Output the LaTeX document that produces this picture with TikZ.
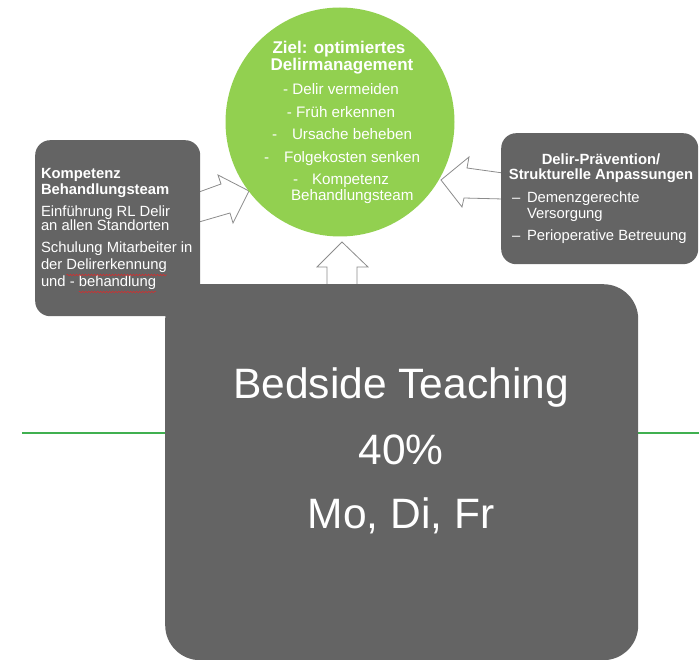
\documentclass[tikz,border=0pt]{standalone}
\usepackage{fontspec}
\setmainfont{Liberation Sans}
\usetikzlibrary{decorations.pathmorphing}

\definecolor{panelgray}{RGB}{100,100,100}
\definecolor{goalgreen}{RGB}{146,208,80}
\definecolor{linegreen}{RGB}{64,176,80}
\definecolor{arrowgray}{RGB}{140,140,140}
\definecolor{spellred}{RGB}{215,45,45}

\newcommand{\fsz}[1]{\fontsize{#1}{#1}\selectfont}

\begin{document}
\begin{tikzpicture}[x=1pt,y=-1pt,
  panel/.style={fill=panelgray, draw=none, inner sep=0pt, anchor=north west},
  lbl/.style={inner sep=0pt, outer sep=0pt, text=white, anchor=base west},
  clbl/.style={inner sep=0pt, outer sep=0pt, text=white, anchor=base},
  body/.style={font=\fsz{14.8}},
  head/.style={font=\fsz{14.8}\bfseries},
  goalbody/.style={font=\fsz{15.2}},
  goalhead/.style={font=\fsz{17}\bfseries},
  big/.style={font=\fsz{42.5}},
  blockarrow/.style={draw=arrowgray, fill=white, line width=0.8pt, line join=miter},
  spell/.style={draw=spellred, line width=0.5pt, decorate,
    decoration={snake, amplitude=0.8pt, segment length=3pt}}
]
\useasboundingbox (0,0) rectangle (699,660);

% horizontal green rule behind the teaching panel
\draw[linegreen, line width=2.6pt] (22,433) -- (699,433);

% block arrows pointing at the goal circle
\draw[blockarrow] (199,192) -- (221,184) -- (218,175) -- (249,191)
  -- (233,223) -- (230,213) -- (199,222) -- cycle;
\draw[blockarrow] (441,180) -- (469,157) -- (467,168) -- (503,173)
  -- (503,199) -- (464,198) -- (462,207) -- cycle;
\draw[blockarrow] (342,242) -- (368,267) -- (357,267) -- (357,287)
  -- (327,287) -- (327,267) -- (317,267) -- cycle;

% panels
\node[panel, rounded corners=15pt, minimum width=165pt, minimum height=176pt] (team) at (35,140) {};
\node[panel, rounded corners=15pt, minimum width=197pt, minimum height=131pt] (prev) at (501,133) {};
\node[panel, rounded corners=35pt, minimum width=473pt, minimum height=376pt] (teach) at (165,284) {};

% goal circle
\node[circle, fill=goalgreen, minimum size=229pt, inner sep=0pt] (goal) at (340,122) {};

% goal text
\node[clbl, goalhead] (g1) at (339,54) {Ziel: optimiertes};
\node[clbl, goalhead] (g2) at (342,71) {Delirmanagement};
\node[clbl, goalbody] (g3) at (341,95) {- Delir vermeiden};
\node[clbl, goalbody] (g4) at (341,118) {- Früh erkennen};
\node[lbl, goalbody] (g5d) at (272,140) {-};
\node[lbl, goalbody] (g5) at (292,140) {Ursache beheben};
\node[lbl, goalbody] (g6d) at (264,163) {-};
\node[lbl, goalbody] (g6) at (284,163) {Folgekosten senken};
\node[lbl, goalbody] (g7d) at (293,185) {-};
\node[lbl, goalbody] (g7) at (312,185) {Kompetenz};
\node[lbl, goalbody] (g8) at (291,201) {Behandlungsteam};

% competence team panel text
\node[lbl, head] (t1) at (41,179) {Kompetenz};
\node[lbl, head] (t2) at (41,195) {Behandlungsteam};
\node[lbl, body] (t3) at (41,217) {Einführung RL Delir};
\node[lbl, body] (t4) at (41,231) {an allen Standorten};
\node[lbl, body] (t5) at (41,253) {Schulung Mitarbeiter in};
\node[lbl, body] (t6a) at (41,270) {der};
\node[lbl, body, anchor=base west] (t6b) at ([xshift=4.1pt]t6a.base east) {Delirerkennung};
\node[lbl, body] (t7a) at (41,287) {und -};
\node[lbl, body, anchor=base west] (t7b) at ([xshift=4.1pt]t7a.base east) {behandlung};
\draw[spell] ([yshift=-5pt]t6b.base west) -- ([yshift=-5pt]t6b.base east);
\draw[spell] ([yshift=-5pt]t7b.base west) -- ([yshift=-5pt]t7b.base east);

% prevention panel text
\node[clbl, head] (p1) at (601,165) {Delir-Prävention/};
\node[clbl, head] (p2) at (601,180) {Strukturelle Anpassungen};
\node[lbl, body] (p3d) at (512,203) {–};
\node[lbl, body] (p3) at (527,203) {Demenzgerechte};
\node[lbl, body] (p4) at (527,219) {Versorgung};
\node[lbl, body] (p5d) at (512,241) {–};
\node[lbl, body] (p5) at (527,241) {Perioperative Betreuung};

% teaching panel text
\node[clbl, big] (b1) at (401,399) {Bedside Teaching};
\node[clbl, big] (b2) at (401,464) {40\%};
\node[clbl, big] (b3) at (401,528) {Mo, Di, Fr};
\end{tikzpicture}
\end{document}
